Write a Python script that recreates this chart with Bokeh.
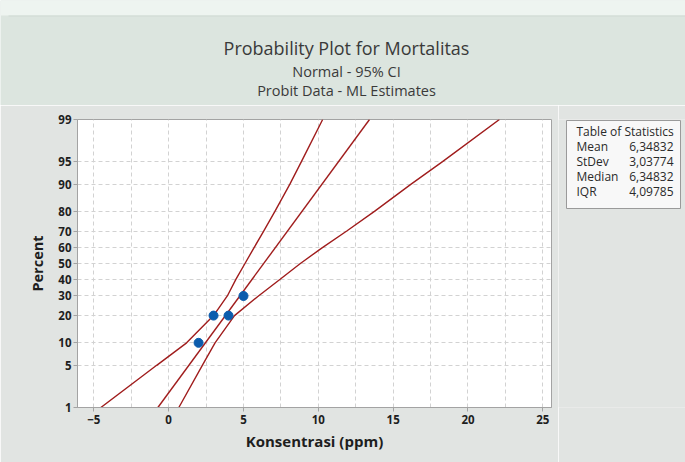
from statistics import NormalDist
from bokeh.plotting import figure
from bokeh.layouts import column, row
from bokeh.models import Range1d, FixedTicker, Label
from bokeh.embed import file_html
from bokeh.resources import INLINE

# ---------------- data ----------------
conc = [2, 3, 4, 5]                 # Konsentrasi (ppm)
pct_obs = [10, 20, 20, 30]          # observed mortality percent
fit_pct = [1, 99]
fit_x = [-0.72, 13.42]              # fitted normal line (Mean 6.348, StDev 3.038)
ci_pct = [1, 5, 10, 20, 30, 40, 50, 60, 70, 80, 90, 95, 99]
ci_lower = [-4.53, -0.8, 1.2, 3.0, 3.92, 4.5, 5.1, 5.7, 6.35, 7.1, 8.1, 8.87, 10.29]
ci_upper = [0.68, 2.25, 3.1, 4.4, 6.0, 7.45, 8.8, 10.25, 11.9, 13.75, 16.2, 18.3, 22.1]
y_tick_pct = [1, 5, 10, 20, 30, 40, 50, 60, 70, 80, 90, 95, 99]
x_ticks = [-5, 0, 5, 10, 15, 20, 25]
x_grid = [-5, -2.5, 0, 2.5, 5, 7.5, 10, 12.5, 15, 17.5, 20, 22.5, 25]
stat_names = ["Mean", "StDev", "Median", "IQR"]
stat_values = ["6,34832", "3,03774", "6,34832", "4,09785"]

title_main = "Probability Plot for Mortalitas"
title_sub1 = "Normal - 95% CI"
title_sub2 = "Probit Data - ML Estimates"
x_label = "Konsentrasi (ppm)"
y_label = "Percent"
table_title = "Table of Statistics"

nd = NormalDist()
def probit(p):
    return nd.inv_cdf(p / 100.0)

# ---------------- styling / geometry ----------------
W, H = 685, 462
TOP_H = 105
MAIN_W = 558
FR_TOP, FR_BOT = 119, 407
BG = "#e1e4e2"
TOP_BG = "#dce5df"
FONT = "Open Sans"
TXT = "#3a3a3a"
DARK = "#1e1e1e"
RED = "#a01d1d"
BLUE = "#0b5cad"
GREY = "#a3a3a3"

# ---------------- title strip ----------------
top = figure(width=W, height=TOP_H, output_backend="svg", toolbar_location=None,
             x_range=Range1d(0, W), y_range=Range1d(TOP_H, 0),
             x_axis_location=None, y_axis_location=None, min_border=0)
top.border_fill_color = TOP_BG
top.background_fill_color = TOP_BG
top.outline_line_color = None
top.grid.visible = False
top.quad(left=[0], right=[W], top=[0], bottom=[15], fill_color="#eef4f0", line_color=None)
top.quad(left=[8], right=[W], top=[15], bottom=[16], fill_color="#cfd9d3", line_color=None)
for txt, yy, fs in [(title_main, 47, "18px"), (title_sub1, 71, "14.5px"), (title_sub2, 90, "14.5px")]:
    top.add_layout(Label(x=346, y=yy, text=txt, text_align="center", text_baseline="middle",
                         text_font=FONT, text_font_size=fs, text_color=TXT))

# ---------------- main probability plot ----------------
p = figure(width=MAIN_W, height=H - TOP_H, output_backend="svg", toolbar_location=None,
           x_range=Range1d(-6.09, 25.58), y_range=Range1d(probit(1), probit(99)),
           min_border_left=77, min_border_right=MAIN_W - 77 - 474,
           min_border_top=FR_TOP - TOP_H, min_border_bottom=H - FR_BOT)
p.border_fill_color = BG
p.background_fill_color = "#ffffff"
p.outline_line_color = GREY

p.xaxis.ticker = FixedTicker(ticks=x_ticks)
p.yaxis.ticker = FixedTicker(ticks=[probit(v) for v in y_tick_pct])
p.yaxis.major_label_overrides = {probit(v): str(v) for v in y_tick_pct}
for ax in (p.xaxis[0], p.yaxis[0]):
    ax.axis_line_color = GREY
    ax.major_tick_line_color = GREY
    ax.major_tick_out = 4
    ax.major_tick_in = 0
    ax.minor_tick_line_color = None
    ax.major_label_text_font = FONT
    ax.major_label_text_font_size = "11.5px"
    ax.major_label_text_font_style = "bold"
    ax.major_label_text_color = DARK
    ax.axis_label_text_font = FONT
    ax.axis_label_text_font_style = "bold"
    ax.axis_label_text_color = DARK
p.xaxis.axis_label_text_font_size = "15px"
p.yaxis.axis_label_text_font_size = "14.5px"
p.yaxis.major_label_standoff = 2
p.xaxis.major_label_standoff = 3
p.xaxis.axis_label = x_label
p.yaxis.axis_label = y_label
p.xaxis.axis_label_standoff = 4
p.yaxis.axis_label_standoff = 8

p.xgrid.ticker = FixedTicker(ticks=x_grid)
p.ygrid.ticker = FixedTicker(ticks=[probit(v) for v in y_tick_pct])
for g in (p.xgrid[0], p.ygrid[0]):
    g.grid_line_color = "#d2d2d2"
    g.grid_line_dash = "4 3"
    g.grid_line_width = 1

p.line(fit_x, [probit(v) for v in fit_pct], line_color=RED, line_width=1.4)
p.line(ci_lower, [probit(v) for v in ci_pct], line_color=RED, line_width=1.4)
p.line(ci_upper, [probit(v) for v in ci_pct], line_color=RED, line_width=1.4)
p.scatter(conc, [probit(v) for v in pct_obs], size=9, fill_color=BLUE, line_color=BLUE)

# ---------------- statistics table (frame aligned with the main plot frame) ----------------
TW = W - MAIN_W
tb = figure(width=TW, height=H - TOP_H, output_backend="svg", toolbar_location=None,
            x_range=Range1d(MAIN_W, W), y_range=Range1d(FR_BOT, FR_TOP),
            x_axis_location=None, y_axis_location=None, min_border=0)
tb.border_fill_color = BG
tb.background_fill_color = BG
tb.outline_line_color = None
tb.grid.visible = False
tb.quad(left=[566], right=[680], top=[120], bottom=[208], fill_color="#f8f8f8",
        line_color="#9a9a9a", line_width=1)
tb.add_layout(Label(x=576, y=131, text=table_title, text_align="left", text_baseline="middle",
                    text_font=FONT, text_font_size="12px", text_color="#2a2a2a"))
row_y = [146, 161, 176, 191]
for name, val, yy in zip(stat_names, stat_values, row_y):
    tb.add_layout(Label(x=576, y=yy, text=name, text_align="left", text_baseline="middle",
                        text_font=FONT, text_font_size="12px", text_color="#2a2a2a"))
    tb.add_layout(Label(x=673, y=yy, text=val, text_align="right", text_baseline="middle",
                        text_font=FONT, text_font_size="12px", text_color="#2a2a2a"))

layout = column(top, row(p, tb))
open("out.html", "w").write(file_html(layout, INLINE))
